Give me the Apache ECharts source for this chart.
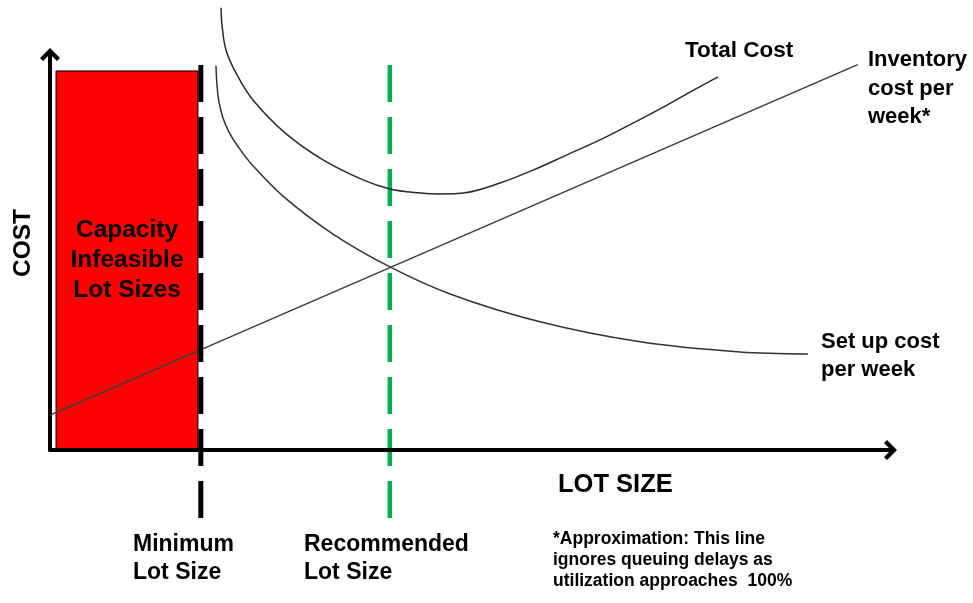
<!DOCTYPE html>
<html>
<head>
<meta charset="utf-8">
<script src="https://cdn.jsdelivr.net/npm/echarts@6/dist/echarts.min.js"></script>
<style>
  html, body { margin: 0; padding: 0; background: #ffffff; }
  #chart { width: 973px; height: 603px; }
</style>
</head>
<body>
<div id="chart"></div>
<script>
// Lot size (x) against weekly cost (y), both in relative units 0–100.

// Total cost per week
const totalCostX = [20.43, 20.55, 21.03, 22.34, 24.25, 28.08, 32.62, 37.40, 40.62, 43.97, 46.59, 49.58, 53.76, 57.71, 61.77, 65.71, 69.65, 73.72, 76.46, 79.81];
const totalCostY = [112.8, 108.4, 102.0, 95.7, 89.3, 80.9, 74.0, 68.9, 66.6, 65.6, 65.3, 65.6, 68.1, 71.4, 75.3, 79.1, 83.4, 88.0, 91.3, 95.2];

// Set up cost per week
const setupCostX = [19.83, 19.95, 20.19, 20.67, 21.39, 22.34, 24.25, 28.08, 33.81, 40.62, 47.79, 58.54, 70.49, 82.44, 90.56];
const setupCostY = [98.0, 93.1, 88.8, 84.7, 81.1, 77.8, 72.5, 64.3, 55.1, 46.7, 39.8, 32.7, 27.6, 25.0, 24.5];

// Inventory cost per week (linear approximation)
const inventoryX = [0, 96.5];
const inventoryY = [8.9, 98.3];

// Lot size markers
const minimumLotSize = 18.02;
const recommendedLotSize = 40.6;
const guideTop = 98.2;
const guideBottom = -17.35;

// Capacity-infeasible band
const infeasibleFromX = 0.72;
const infeasibleToX = 17.68;
const infeasibleTopY = 96.7;

// Text
const infeasibleLabel = 'Capacity\nInfeasible\nLot Sizes';
const yAxisTitle = 'COST';
const xAxisTitle = 'LOT SIZE';
const totalCostLabel = 'Total Cost';
const inventoryLabel = 'Inventory\ncost per\nweek*';
const setupLabel = 'Set up cost\nper week';
const minimumLabel = 'Minimum\nLot Size';
const recommendedLabel = 'Recommended\nLot Size';
const footnote = '*Approximation: This line\nignores queuing delays as\nutilization approaches  100%';

const zip = (xs, ys) => xs.map((x, i) => [x, ys[i]]);

const FONT = '"Liberation Sans", Arial, sans-serif';
const chevron = 'path://M10,0 L20,10 L17,13 L10,6 L3,13 L0,10 Z M8,4 L12,4 L12,20 L8,20 Z';

const axisCommon = {
  type: 'value',
  min: 0,
  max: 100,
  z: 3,
  axisLine: {
    show: true,
    onZero: false,
    symbol: ['none', chevron],
    symbolSize: [21, 20],
    lineStyle: { color: '#000000', width: 4 }
  },
  axisTick: { show: false },
  axisLabel: { show: false },
  splitLine: { show: false }
};

function txt(x, y, text, opts) {
  return Object.assign({
    type: 'text',
    x: x,
    y: y,
    silent: true,
    style: Object.assign({
      text: text,
      fill: '#000000',
      fontFamily: FONT,
      fontWeight: 'bold',
      fontSize: 22,
      align: 'left',
      verticalAlign: 'top'
    }, opts && opts.style)
  }, opts && opts.el);
}

const chart = echarts.init(document.getElementById('chart'), null, { renderer: 'canvas' });

chart.setOption({
  backgroundColor: '#ffffff',
  animation: false,
  grid: { left: 50, right: 86, top: 58, bottom: 153, containLabel: false },
  xAxis: axisCommon,
  yAxis: axisCommon,
  series: [
    {
      name: 'Inventory cost per week',
      type: 'line',
      data: zip(inventoryX, inventoryY),
      symbol: 'none',
      clip: false,
      silent: true,
      lineStyle: { color: '#3a3a3a', width: 1.5 },
      markArea: {
        silent: true,
        itemStyle: { color: '#ff0000', borderColor: '#000000', borderWidth: 1 },
        label: {
          show: true,
          position: 'inside',
          color: '#000000',
          fontFamily: FONT,
          fontWeight: 'bold',
          fontSize: 24.5,
          lineHeight: 30,
          align: 'center'
        },
        data: [[
          { name: infeasibleLabel, coord: [infeasibleFromX, 0] },
          { coord: [infeasibleToX, infeasibleTopY] }
        ]]
      }
    },
    {
      name: 'Set up cost per week',
      type: 'line',
      data: zip(setupCostX, setupCostY),
      symbol: 'none',
      smooth: 0.35,
      clip: false,
      silent: true,
      lineStyle: { color: '#333333', width: 1.5 }
    },
    {
      name: 'Total Cost',
      type: 'line',
      data: zip(totalCostX, totalCostY),
      symbol: 'none',
      smooth: 0.35,
      clip: false,
      silent: true,
      lineStyle: { color: '#2a2a2a', width: 1.5 }
    },
    {
      name: 'Minimum Lot Size',
      type: 'line',
      data: [[minimumLotSize, guideTop], [minimumLotSize, guideBottom]],
      symbol: 'none',
      clip: false,
      silent: true,
      z: 4,
      lineStyle: { color: '#000000', width: 5, type: [37, 15], cap: 'butt' }
    },
    {
      name: 'Recommended Lot Size',
      type: 'line',
      data: [[recommendedLotSize, guideTop], [recommendedLotSize, guideBottom]],
      symbol: 'none',
      clip: false,
      silent: true,
      z: 2,
      lineStyle: { color: '#00b050', width: 4.5, type: [37, 15], cap: 'butt' }
    }
  ],
  graphic: [
    txt(23, 243, yAxisTitle, { el: { rotation: Math.PI / 2 }, style: { fontSize: 24.5, align: 'center', verticalAlign: 'middle' } }),
    txt(558, 485, xAxisTitle, { style: { fontSize: 25.5, verticalAlign: 'middle' } }),
    txt(685, 51, totalCostLabel, { style: { fontSize: 22.5, verticalAlign: 'middle' } }),
    txt(868, 46, inventoryLabel, { style: { lineHeight: 28.5 } }),
    txt(821, 328, setupLabel, { style: { lineHeight: 28 } }),
    txt(133, 531, minimumLabel, { style: { fontSize: 23, lineHeight: 28 } }),
    txt(304, 531, recommendedLabel, { style: { fontSize: 23, lineHeight: 28 } }),
    txt(553, 529, footnote, { style: { fontSize: 17.5, lineHeight: 21 } })
  ]
});
</script>
</body>
</html>
